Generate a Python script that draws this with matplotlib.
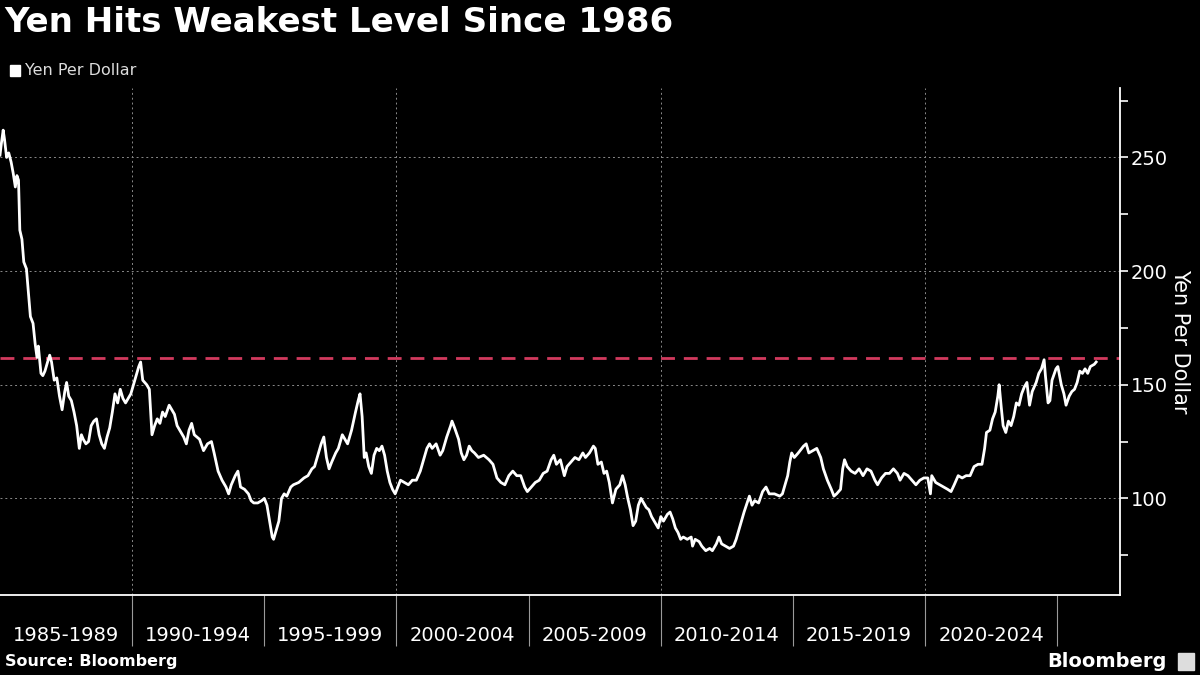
import matplotlib
matplotlib.use("Agg")
import matplotlib.pyplot as plt
import numpy as np

# traced yen per dollar values (fractional year, value)
years = [
    1985.00, 1985.05, 1985.12, 1985.17, 1985.25, 1985.33, 1985.42, 1985.50, 1985.58, 1985.64,
    1985.70, 1985.75, 1985.83, 1985.90, 1986.00, 1986.08, 1986.15, 1986.25, 1986.33, 1986.40,
    1986.45, 1986.55, 1986.62, 1986.70, 1986.80, 1986.88, 1986.95, 1987.05, 1987.15, 1987.25,
    1987.35, 1987.45, 1987.52, 1987.60, 1987.70, 1987.80, 1987.90, 1988.00, 1988.08, 1988.15,
    1988.25, 1988.35, 1988.45, 1988.55, 1988.65, 1988.75, 1988.85, 1988.95, 1989.05, 1989.15,
    1989.25, 1989.35, 1989.45, 1989.55, 1989.65, 1989.75, 1989.85, 1989.95, 1990.10, 1990.25,
    1990.32, 1990.40, 1990.55, 1990.65, 1990.75, 1990.85, 1990.95, 1991.05, 1991.15, 1991.25,
    1991.40, 1991.50, 1991.60, 1991.70, 1991.80, 1991.95, 1992.05, 1992.15, 1992.25, 1992.35,
    1992.45, 1992.55, 1992.70, 1992.85, 1993.00, 1993.10, 1993.25, 1993.40, 1993.55, 1993.65,
    1993.75, 1993.90, 1994.00, 1994.10, 1994.25, 1994.40, 1994.50, 1994.60, 1994.75, 1994.90,
    1995.00, 1995.10, 1995.20, 1995.30, 1995.35, 1995.45, 1995.55, 1995.65, 1995.75, 1995.85,
    1996.00, 1996.10, 1996.30, 1996.50, 1996.65, 1996.80, 1996.90, 1997.00, 1997.15, 1997.25,
    1997.35, 1997.45, 1997.55, 1997.70, 1997.80, 1997.95, 1998.05, 1998.15, 1998.30, 1998.45,
    1998.55, 1998.62, 1998.70, 1998.78, 1998.85, 1998.95, 1999.05, 1999.15, 1999.25, 1999.35,
    1999.45, 1999.55, 1999.65, 1999.75, 1999.85, 1999.95, 2000.05, 2000.15, 2000.30, 2000.45,
    2000.60, 2000.75, 2000.90, 2001.05, 2001.15, 2001.25, 2001.35, 2001.50, 2001.65, 2001.75,
    2001.90, 2002.05, 2002.10, 2002.20, 2002.35, 2002.45, 2002.55, 2002.65, 2002.75, 2002.85,
    2002.95, 2003.10, 2003.30, 2003.50, 2003.65, 2003.80, 2003.95, 2004.10, 2004.25, 2004.40,
    2004.55, 2004.70, 2004.85, 2004.95, 2005.10, 2005.25, 2005.40, 2005.55, 2005.70, 2005.85,
    2005.95, 2006.05, 2006.20, 2006.35, 2006.45, 2006.60, 2006.75, 2006.90, 2007.05, 2007.15,
    2007.30, 2007.45, 2007.52, 2007.62, 2007.75, 2007.85, 2007.95, 2008.05, 2008.17, 2008.30,
    2008.45, 2008.55, 2008.65, 2008.75, 2008.85, 2008.95, 2009.05, 2009.15, 2009.25, 2009.35,
    2009.45, 2009.55, 2009.65, 2009.80, 2009.90, 2010.00, 2010.10, 2010.25, 2010.35, 2010.45,
    2010.55, 2010.65, 2010.75, 2010.85, 2011.00, 2011.15, 2011.20, 2011.30, 2011.45, 2011.55,
    2011.70, 2011.85, 2011.95, 2012.10, 2012.20, 2012.30, 2012.45, 2012.60, 2012.75, 2012.85,
    2012.95, 2013.05, 2013.15, 2013.35, 2013.45, 2013.55, 2013.70, 2013.85, 2013.98, 2014.10,
    2014.30, 2014.50, 2014.60, 2014.70, 2014.80, 2014.88, 2014.95, 2015.05, 2015.20, 2015.40,
    2015.50, 2015.60, 2015.75, 2015.90, 2016.05, 2016.15, 2016.30, 2016.45, 2016.55, 2016.65,
    2016.80, 2016.88, 2016.95, 2017.05, 2017.20, 2017.35, 2017.50, 2017.65, 2017.80, 2017.95,
    2018.10, 2018.20, 2018.35, 2018.50, 2018.65, 2018.80, 2018.95, 2019.05, 2019.20, 2019.35,
    2019.50, 2019.65, 2019.80, 2019.95, 2020.10, 2020.20, 2020.25, 2020.40, 2020.55, 2020.70,
    2020.85, 2020.98, 2021.10, 2021.25, 2021.40, 2021.55, 2021.70, 2021.85, 2022.00, 2022.15,
    2022.25, 2022.32, 2022.45, 2022.55, 2022.65, 2022.75, 2022.80, 2022.88, 2022.95, 2023.05,
    2023.15, 2023.25, 2023.35, 2023.45, 2023.55, 2023.65, 2023.75, 2023.85, 2023.95, 2024.05,
    2024.20, 2024.30, 2024.40, 2024.50, 2024.55, 2024.65, 2024.72, 2024.80, 2024.95, 2025.02,
    2025.15, 2025.25, 2025.33, 2025.45, 2025.55, 2025.65, 2025.75, 2025.85, 2025.95, 2026.05,
    2026.15, 2026.25, 2026.40, 2026.47,
]
yen = [
    251, 256, 262, 258, 250, 252, 248, 243, 237, 242,
    240, 218, 214, 204, 201, 190, 180, 177, 168, 162,
    167, 155, 154, 156, 160, 163, 160, 152, 153, 145,
    139, 147, 151, 145, 143, 138, 132, 122, 128, 126,
    124, 125, 132, 134, 135, 128, 124, 122, 127, 131,
    138, 146, 142, 148, 144, 142, 144, 146, 152, 158,
    160, 152, 150, 148, 128, 132, 135, 133, 138, 136,
    141, 139, 137, 132, 130, 127, 124, 130, 133, 128,
    127, 126, 121, 124, 125, 120, 112, 108, 105, 102,
    106, 110, 112, 105, 104, 102, 99, 98, 98, 99,
    100, 97, 90, 83, 82, 86, 90, 100, 102, 101,
    105, 106, 107, 109, 110, 113, 114, 118, 124, 127,
    118, 113, 116, 120, 122, 128, 126, 124, 130, 138,
    143, 146, 136, 118, 120, 114, 111, 119, 122, 121,
    123, 119, 112, 107, 104, 102, 105, 108, 107, 106,
    108, 108, 112, 118, 122, 124, 122, 124, 119, 121,
    127, 132, 134, 131, 126, 120, 117, 119, 123, 121,
    120, 118, 119, 117, 115, 109, 107, 106, 110, 112,
    110, 110, 105, 103, 105, 107, 108, 111, 112, 117,
    119, 115, 117, 110, 114, 116, 118, 117, 120, 118,
    120, 123, 122, 115, 116, 111, 112, 107, 98, 104,
    106, 110, 106, 100, 95, 88, 90, 97, 100, 98,
    96, 95, 92, 89, 87, 92, 90, 93, 94, 91,
    87, 85, 82, 83, 82, 83, 79, 82, 81, 79,
    77, 78, 77, 80, 83, 80, 79, 78, 79, 82,
    86, 90, 94, 101, 97, 99, 98, 103, 105, 102,
    102, 101, 102, 106, 110, 116, 120, 118, 120, 123,
    124, 120, 121, 122, 118, 113, 108, 104, 101, 102,
    104, 113, 117, 114, 112, 111, 113, 110, 113, 112,
    108, 106, 109, 111, 111, 113, 111, 108, 111, 110,
    108, 106, 108, 109, 109, 102, 110, 107, 106, 105,
    104, 103, 106, 110, 109, 110, 110, 114, 115, 115,
    122, 129, 130, 135, 138, 145, 150, 140, 132, 129,
    134, 132, 136, 142, 141, 146, 149, 151, 141, 147,
    151, 155, 157, 161, 154, 142, 143, 152, 157, 158,
    150, 146, 141, 145, 147, 148, 151, 156, 155, 157,
    155, 158, 159, 160,
]
peak_level = 161.8

y_ticks = [100, 150, 200, 250]
period_edges = [1985, 1990, 1995, 2000, 2005, 2010, 2015, 2020, 2025]
period_labels = ["1985-1989", "1990-1994", "1995-1999", "2000-2004",
                 "2005-2009", "2010-2014", "2015-2019", "2020-2024"]

fig = plt.figure(figsize=(12, 6.75), dpi=100, facecolor="black")
ax = fig.add_axes([0.0, 0.1185, 0.9333, 0.751])
ax.set_facecolor("black")

ax.plot(years, yen, color="white", lw=2.0, zorder=3)
ax.axhline(peak_level, color="#d23a5e", lw=2.0, dashes=(5, 3.2), zorder=2)

ax.set_xlim(1985, 2027.37)
ax.set_ylim(57.5, 280.5)

# grid
for g in y_ticks:
    ax.axhline(g, color="#8a8a8a", lw=0.7, ls=(0, (2, 3)), zorder=1)
for g in [1990, 2000, 2010, 2020]:
    ax.axvline(g, color="#8a8a8a", lw=0.7, ls=(0, (2, 3)), zorder=1)

# spines
for s in ["left", "top"]:
    ax.spines[s].set_visible(False)
ax.spines["bottom"].set_color("white")
ax.spines["bottom"].set_linewidth(1.3)
ax.spines["right"].set_color("white")
ax.spines["right"].set_linewidth(1.3)

# y axis on right
ax.yaxis.tick_right()
ax.yaxis.set_label_position("right")
ax.set_yticks(y_ticks)
ax.set_yticks([75, 125, 175, 225, 275], minor=True)
ax.tick_params(axis="y", which="both", colors="white", direction="out",
               length=6, width=1.2, labelsize=14, pad=2)
ax.set_ylabel("Yen Per Dollar", color="white", fontsize=15, rotation=-90,
              labelpad=16)

# x axis: separators at 5-year edges, labels centered
ax.set_xticks(period_edges[1:])
ax.set_xticklabels([])
ax.tick_params(axis="x", which="major", colors="#9a9a9a", length=37, width=0.8)
centers = [e + 2.5 for e in period_edges[:-1]]
ax.set_xticks(centers, minor=True)
ax.set_xticklabels(period_labels, minor=True)
ax.tick_params(axis="x", which="minor", length=0, labelsize=14,
               labelcolor="white", pad=22)

# title and legend
fig.text(0.004, 0.967, "Yen Hits Weakest Level Since 1986", color="white",
         fontsize=24.5, fontweight="bold", va="center", ha="left")
fig.patches.append(plt.Rectangle((0.008, 0.888), 0.0085, 0.0151,
                                 transform=fig.transFigure, color="white"))
fig.text(0.021, 0.895, "Yen Per Dollar", color="#dddddd", fontsize=11.5,
         va="center", ha="left")

# footer
fig.text(0.004, 0.020, "Source: Bloomberg", color="white", fontsize=11.5,
         fontweight="bold", va="center", ha="left")
fig.text(0.972, 0.020, "Bloomberg", color="white", fontsize=14,
         fontweight="bold", va="center", ha="right")
fig.patches.append(plt.Rectangle((0.982, 0.008), 0.013, 0.025,
                                 transform=fig.transFigure, color="#dddddd"))

fig.savefig("out.png", dpi=100, facecolor="black")
